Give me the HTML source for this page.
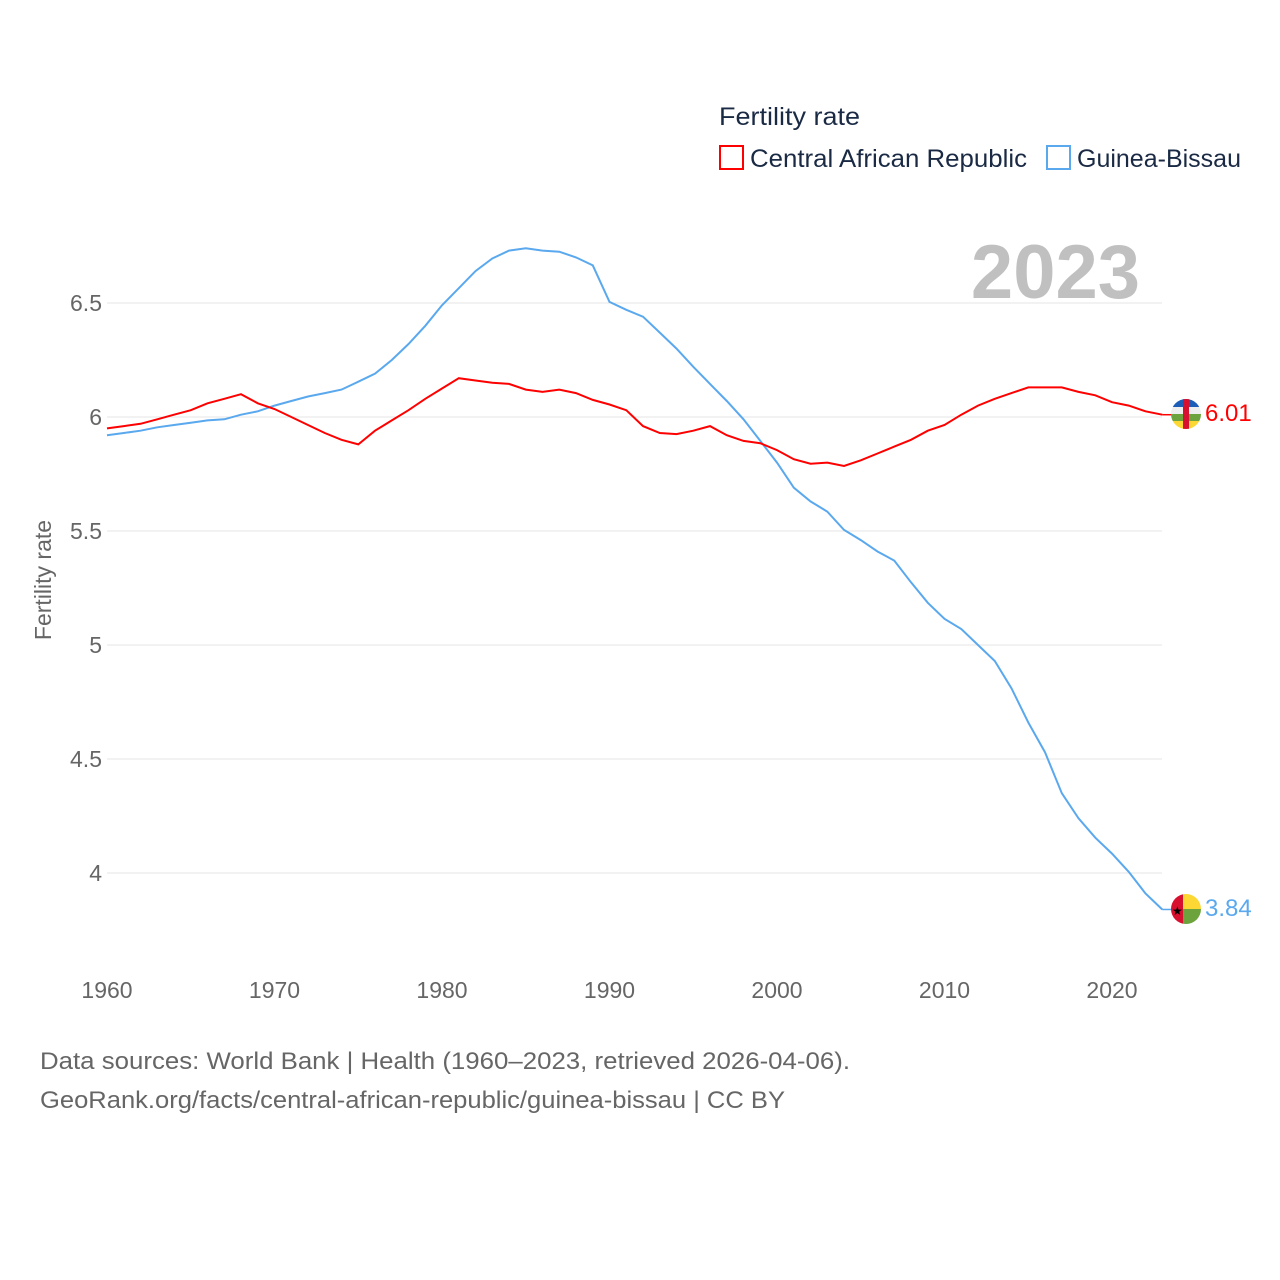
<!DOCTYPE html>
<html><head><meta charset="utf-8"><style>
html,body{margin:0;padding:0;background:#fff;}
body{width:1280px;height:1280px;position:relative;overflow:hidden;font-family:"Liberation Sans",sans-serif;}
svg{position:absolute;left:0;top:0;}
</style></head><body>
<svg id="chart" width="1280" height="1280">
<defs>
<clipPath id="c1"><circle cx="0" cy="0" r="15"/></clipPath>
</defs>
<g id="grid"></g>
<g id="lines"></g>
<text x="1140" y="298" text-anchor="end" font-size="76" font-weight="bold" fill="#c0c0c0">2023</text>
<text transform="translate(51,580) rotate(-90)" text-anchor="middle" font-size="23" fill="#666">Fertility rate</text>
<text x="719" y="125" font-size="25" fill="#1a2a44" textLength="141" lengthAdjust="spacingAndGlyphs">Fertility rate</text>
<g><rect x="720" y="146" width="23" height="23" fill="none" stroke="#f00" stroke-width="2"/><text x="750" y="167" font-size="25" fill="#1a2a44" textLength="277" lengthAdjust="spacingAndGlyphs">Central African Republic</text></g>
<g><rect x="1047" y="146" width="23" height="23" fill="none" stroke="#5aa8ee" stroke-width="2"/><text x="1077" y="167" font-size="25" fill="#1a2a44">Guinea-Bissau</text></g>
<g transform="translate(1186,414)">
<g clip-path="url(#c1)"><rect x="-15" y="-15" width="30" height="8" fill="#1c5db8"/><rect x="-15" y="-7" width="30" height="7" fill="#eee"/><rect x="-15" y="0" width="30" height="7" fill="#6ca33c"/><rect x="-15" y="7" width="30" height="8" fill="#fdd835"/><rect x="-3" y="-15" width="6" height="30" fill="#d8102f"/></g></g>
<g transform="translate(1186,909)">
<g clip-path="url(#c1)"><rect x="-15" y="-15" width="12" height="30" fill="#d8102f"/><rect x="-3" y="-15" width="18" height="15" fill="#fdd835"/><rect x="-3" y="0" width="18" height="15" fill="#6ca33c"/><text x="-14" y="6" font-size="12">★</text></g></g>
<text x="1205" y="421" font-size="24" fill="#f00">6.01</text>
<text x="1205" y="916" font-size="24" fill="#5aa8ee">3.84</text>
<text x="40" y="1069" font-size="24" fill="#666" textLength="810" lengthAdjust="spacingAndGlyphs">Data sources: World Bank | Health (1960–2023, retrieved 2026-04-06).</text>
<text x="40" y="1108" font-size="24" fill="#666" textLength="745" lengthAdjust="spacingAndGlyphs">GeoRank.org/facts/central-african-republic/guinea-bissau | CC BY</text>
</svg>
<script>
const years = [];for(let y=1960;y<=2023;y++)years.push(y);
const carValues = [5.95,5.96,5.97,5.99,6.01,6.03,6.06,6.08,6.10,6.06,6.035,6.0,5.965,5.93,5.90,5.88,5.94,5.985,6.03,6.08,6.125,6.17,6.16,6.15,6.145,6.12,6.11,6.12,6.105,6.075,6.055,6.03,5.96,5.93,5.925,5.94,5.96,5.92,5.895,5.885,5.855,5.815,5.795,5.80,5.785,5.81,5.84,5.87,5.90,5.94,5.965,6.01,6.05,6.08,6.105,6.13,6.13,6.13,6.11,6.095,6.065,6.05,6.025,6.01];
const gbValues = [5.92,5.93,5.94,5.955,5.965,5.975,5.985,5.99,6.01,6.025,6.05,6.07,6.09,6.105,6.12,6.155,6.19,6.25,6.32,6.40,6.49,6.565,6.64,6.695,6.73,6.74,6.73,6.725,6.70,6.665,6.505,6.47,6.44,6.37,6.30,6.22,6.145,6.07,5.99,5.895,5.80,5.69,5.63,5.585,5.505,5.46,5.41,5.37,5.275,5.185,5.115,5.07,5.0,4.93,4.81,4.66,4.53,4.35,4.24,4.155,4.085,4.005,3.91,3.84];
const yTicks = [4,4.5,5,5.5,6,6.5];
const yTickLabels = ["4","4.5","5","5.5","6","6.5"];
const xTicks = [1960,1970,1980,1990,2000,2010,2020];
const NS="http://www.w3.org/2000/svg";
function xs(y){return 107+(y-1960)*(1005/60);}
function ys(v){return 417-(v-6)*228;}
const grid=document.getElementById('grid');
yTicks.forEach((t,i)=>{
 const l=document.createElementNS(NS,'line');
 l.setAttribute('x1',107);l.setAttribute('x2',1162);l.setAttribute('y1',ys(t));l.setAttribute('y2',ys(t));
 l.setAttribute('stroke','#e6e6e6');l.setAttribute('stroke-width','1');
 
 
 grid.appendChild(l);
 const tx=document.createElementNS(NS,'text');
 tx.setAttribute('x',102);tx.setAttribute('y',ys(t)+8);tx.setAttribute('text-anchor','end');
 tx.setAttribute('font-size','23');tx.setAttribute('fill','#666');tx.textContent=yTickLabels[i];
 
 
 grid.appendChild(tx);
});
xTicks.forEach(t=>{
 const tx=document.createElementNS(NS,'text');
 tx.setAttribute('x',xs(t));tx.setAttribute('y',998);tx.setAttribute('text-anchor','middle');
 tx.setAttribute('font-size','23');tx.setAttribute('fill','#666');tx.textContent=t;
 
 
 grid.appendChild(tx);
});
const lines=document.getElementById('lines');
function draw(vals,color,name){
 const p=document.createElementNS(NS,'path');
 p.setAttribute('d',vals.map((v,i)=>(i?'L':'M')+xs(years[i]).toFixed(1)+','+ys(v).toFixed(1)).join(''));
 p.setAttribute('fill','none');p.setAttribute('stroke',color);p.setAttribute('stroke-width','2');
 
 
 lines.appendChild(p);
 const c=document.createElementNS(NS,'line');
 const last=vals[vals.length-1];
 c.setAttribute('x1',xs(2023));c.setAttribute('x2',1172);c.setAttribute('y1',ys(last));c.setAttribute('y2',ys(last));
 c.setAttribute('stroke',color);c.setAttribute('stroke-width','1.5');
 
 
 lines.appendChild(c);
}
draw(gbValues,'#5aa8ee','line-guinea-bissau');
draw(carValues,'#f00','line-car');
</script>
</body></html>
